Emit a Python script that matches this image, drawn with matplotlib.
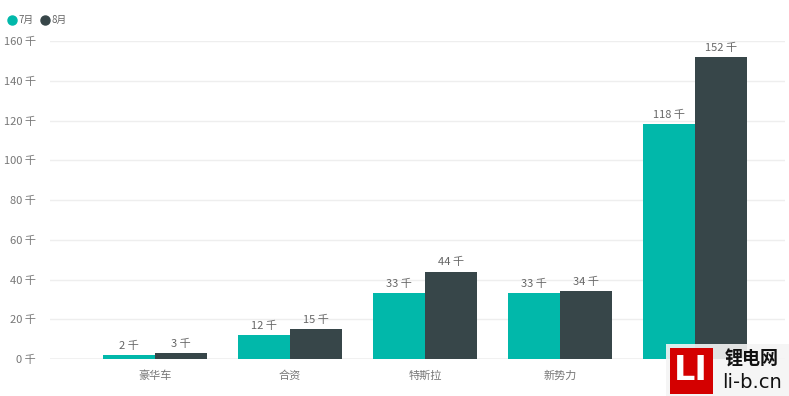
import matplotlib
matplotlib.use("Agg")
import matplotlib.pyplot as plt
from matplotlib.patches import Rectangle
from matplotlib.lines import Line2D
import numpy as np

plt.rcParams['font.family'] = ['Noto Sans CJK SC', 'DejaVu Sans']

categories = ["豪华车", "合资", "特斯拉", "新势力", "自主"]
july = [2, 12, 33, 33, 118]
august = [3, 15, 44, 34, 152]
series_names = ["7月", "8月"]
colors = ["#01B8AA", "#374649"]
yticks = [0, 20, 40, 60, 80, 100, 120, 140, 160]
ytick_labels = [f"{v} 千" for v in yticks]

W, H = 789, 396
fig = plt.figure(figsize=(W / 100, H / 100), dpi=100)
ax = fig.add_axes([50 / W, 1 - 359 / H, (785 - 50) / W, (359 - 41) / H])

x = np.arange(len(categories))
bw = 0.385
b1 = ax.bar(x - bw / 2, july, bw, color=colors[0], zorder=3)
b2 = ax.bar(x + bw / 2, august, bw, color=colors[1], zorder=3)

for bars, vals in ((b1, july), (b2, august)):
    for rect, v in zip(bars, vals):
        ax.annotate(f"{v} 千", (rect.get_x() + rect.get_width() / 2, rect.get_height()),
                    xytext=(0, 3), textcoords="offset points", ha="center", va="bottom",
                    fontsize=8, color="#666666")

ax.set_ylim(0, 160)
ax.set_xlim(-0.78, 4.67)
ax.set_yticks(yticks)
ax.set_yticklabels(ytick_labels, fontsize=8, color="#777777")
ax.set_xticks(x)
ax.set_xticklabels(categories, fontsize=8, color="#777777")
ax.tick_params(axis="both", length=0)
ax.tick_params(axis="y", pad=10)
ax.tick_params(axis="x", pad=8)
ax.grid(axis="y", color="#eeeeee", linewidth=1, zorder=0)
for s in ax.spines.values():
    s.set_visible(False)
ax.axhline(0, color="#cccccc", linewidth=1, zorder=2)

# legend
for i, (name, c) in enumerate(zip(series_names, colors)):
    cx = 12 + i * 33
    fig.add_artist(Line2D([cx / W], [1 - 20 / H], marker="o", markersize=6.5,
                          color=c, linestyle="none", transform=fig.transFigure))
    fig.text((cx + 6.5) / W, 1 - 20 / H, name, fontsize=7, color="#666666", va="center")

# watermark
fig.patches.append(Rectangle((666 / W, 0), (W - 666) / W, 52 / H, transform=fig.transFigure,
                             facecolor="#f4f4f4", edgecolor="none", alpha=0.9, zorder=5))
fig.patches.append(Rectangle((670 / W, 2 / H), 43 / W, 46 / H, transform=fig.transFigure,
                             facecolor="#d40000", edgecolor="none", zorder=6))
fig.text(691 / W, 25 / H, "LI", fontsize=24, fontweight="bold", color="white",
         ha="center", va="center", family="DejaVu Sans", zorder=7)
fig.text(752 / W, 37 / H, "锂电网", fontsize=13, fontweight="bold", color="#111111",
         ha="center", va="center", zorder=7)
fig.text(752 / W, 13 / H, "li-b.cn", fontsize=14, color="#111111",
         ha="center", va="center", family="DejaVu Sans", zorder=7)

fig.savefig("out.png", dpi=100)
